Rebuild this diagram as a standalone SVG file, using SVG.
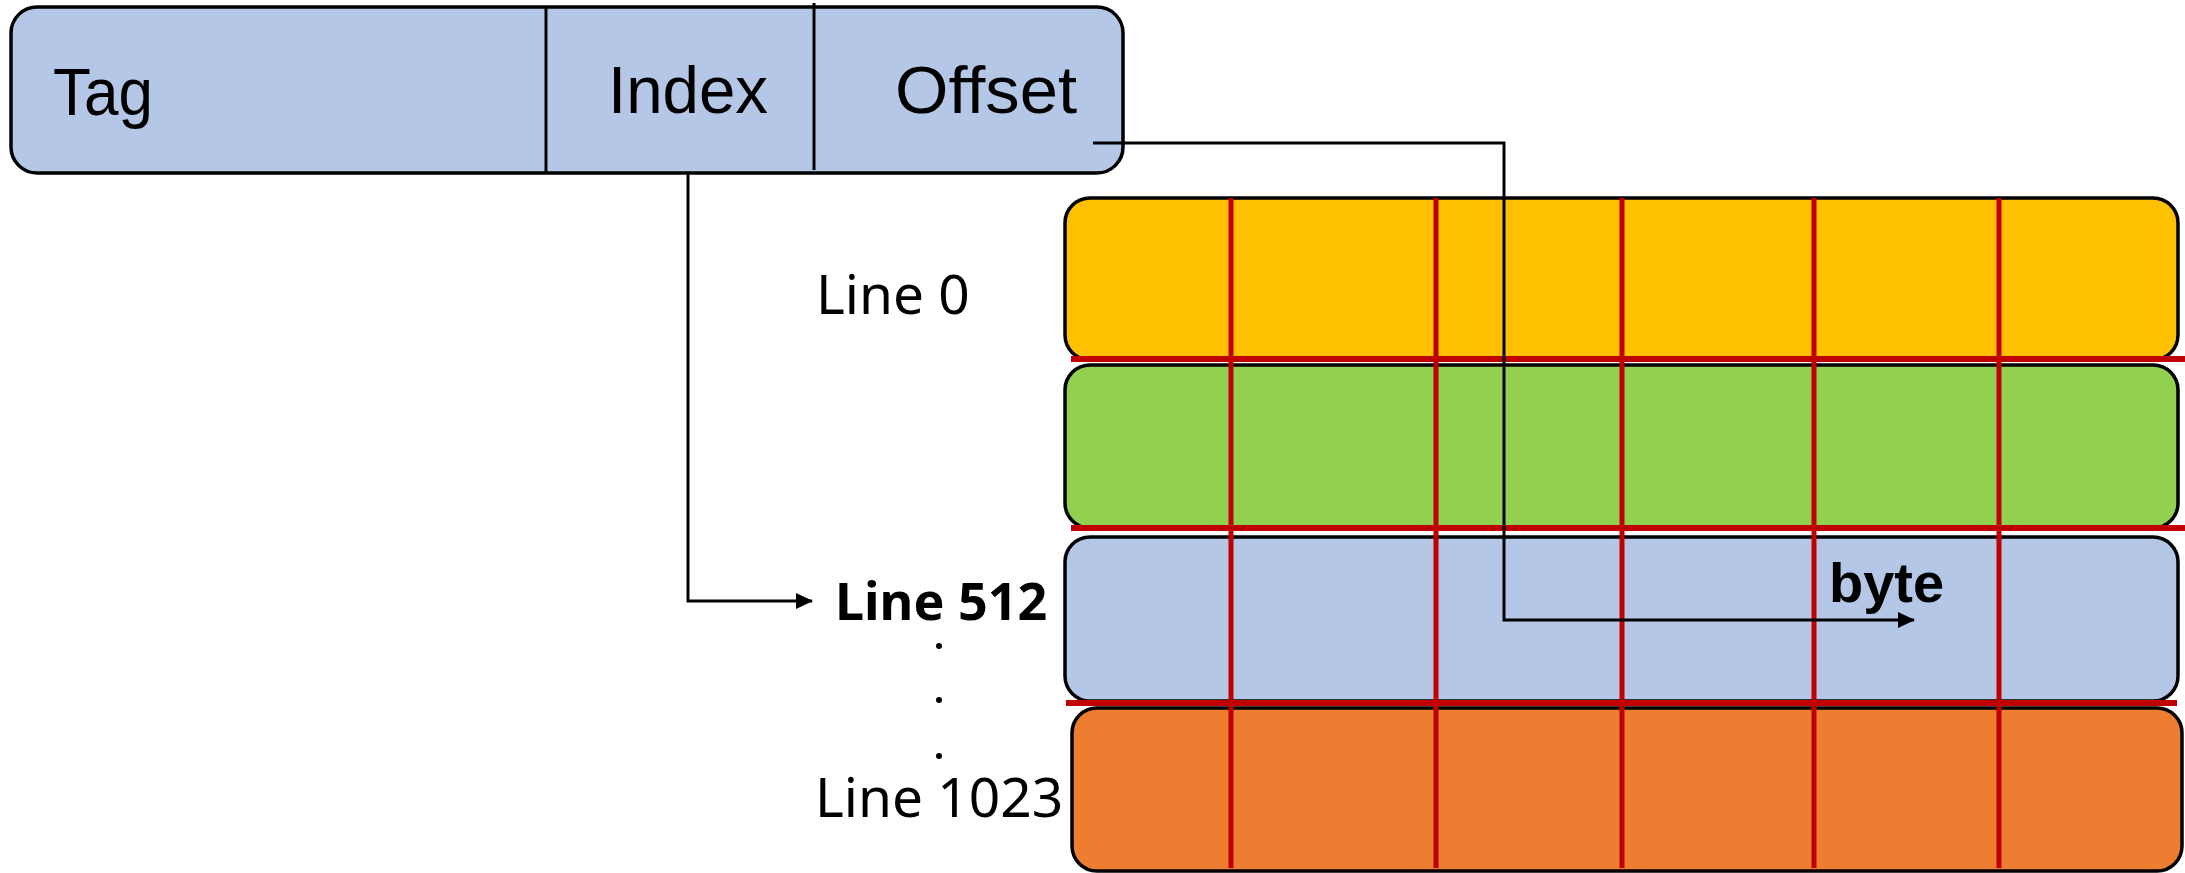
<svg xmlns="http://www.w3.org/2000/svg" width="2185" height="873" viewBox="0 0 2185 873">
<defs>
<marker id="arr" markerUnits="userSpaceOnUse" markerWidth="18" markerHeight="18" viewBox="0 0 18 18" refX="16" refY="9" orient="auto">
<path d="M0,1 L17,9 L0,17 Z" fill="#000"/>
</marker>
<style>
.box{stroke:#000;stroke-width:3.5}
.div{stroke:#000;stroke-width:3}
.red{stroke:#C00000;stroke-width:6}
.redv{stroke:#C00000;stroke-width:5}
.conn{fill:none;stroke:#000;stroke-width:3}
.hdr{font-family:"Liberation Sans",Arial,sans-serif;font-size:66px;fill:#000}
.lbl{font-family:"Noto Sans","DejaVu Sans",sans-serif;font-size:55px;fill:#000}
.lblb{font-family:"Noto Sans","DejaVu Sans",sans-serif;font-size:52px;font-weight:bold;fill:#000}
.byte{font-family:"Liberation Sans",Arial,sans-serif;font-size:56px;font-weight:bold;fill:#000}
</style>
</defs>
<rect width="2185" height="873" fill="#fff"/>
<g id="address">
<rect class="box" x="11" y="7" width="1112" height="166" rx="26" ry="26" fill="#B4C7E7"/>
<line class="div" x1="546" y1="7" x2="546" y2="173"/>
<line class="div" x1="814" y1="3" x2="814" y2="170"/>
<text class="hdr" x="53" y="115" textLength="100" lengthAdjust="spacingAndGlyphs">Tag</text>
<text class="hdr" x="608" y="113" textLength="160" lengthAdjust="spacingAndGlyphs">Index</text>
<text class="hdr" x="895" y="113" textLength="182" lengthAdjust="spacingAndGlyphs">Offset</text>
</g>
<g id="line0">
<rect class="box" x="1065" y="198" width="1113" height="162" rx="25" ry="25" fill="#FFC000"/>
<text class="lbl" x="816" y="314">Line 0</text>
</g>
<g id="line1">
<rect class="box" x="1065" y="365" width="1113" height="163" rx="25" ry="25" fill="#92D050"/>
</g>
<g id="line512">
<rect class="box" x="1065" y="537" width="1113" height="164" rx="25" ry="25" fill="#B4C7E7"/>
<text class="lblb" x="835" y="620">Line 512</text>
</g>
<g id="line1023">
<rect class="box" x="1072" y="708" width="1110" height="163" rx="25" ry="25" fill="#ED7D31"/>
<text class="lbl" x="815" y="817">Line 1023</text>
</g>
<g id="dots" fill="#000">
<circle cx="939" cy="646" r="3"/>
<circle cx="939" cy="700" r="3"/>
<circle cx="939" cy="756" r="3"/>
</g>
<g id="grid">
<line class="red" x1="1071" y1="359" x2="2185" y2="359"/>
<line class="red" x1="1071" y1="528" x2="2185" y2="528"/>
<line class="red" x1="1066" y1="703" x2="2177" y2="703"/>
<line class="redv" x1="1231" y1="198" x2="1231" y2="868"/>
<line class="redv" x1="1436" y1="198" x2="1436" y2="868"/>
<line class="redv" x1="1622" y1="198" x2="1622" y2="868"/>
<line class="redv" x1="1814" y1="198" x2="1814" y2="868"/>
<line class="redv" x1="1999" y1="198" x2="1999" y2="868"/>
</g>
<g id="connectors">
<path class="conn" d="M688,173 V601 H812" marker-end="url(#arr)"/>
<path class="conn" d="M1093,143 H1504 V620 H1914" marker-end="url(#arr)"/>
</g>
<g id="byte-label">
<text class="byte" x="1829" y="602">byte</text>
</g>
</svg>
